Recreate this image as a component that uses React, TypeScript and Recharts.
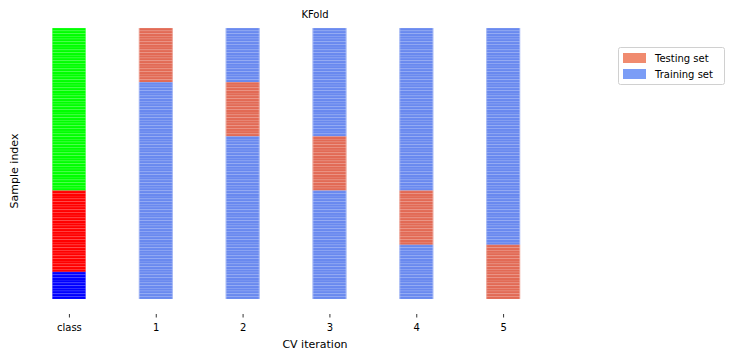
import { BarChart, Bar, XAxis, YAxis, Cell } from "recharts"

// columns along the x axis
const categories = ["class", "1", "2", "3", "4", "5"]

// samples, listed top to bottom
const nSamples = 100
const classCounts = [60, 30, 10]
const classColors = ["#00ff00", "#ff0000", "#0000ff"]

// KFold: each split tests one block of 20 consecutive samples
const foldTestStart = [0, 20, 40, 60, 80]
const foldSize = 20

const TEST_COLOR = "#e26a55"
const TRAIN_COLOR = "#6989ef"
const TEST_PATCH = "#f08b6f"
const TRAIN_PATCH = "#7b9df6"

const FONT = "'DejaVu Sans', sans-serif"

const sampleClass: number[] = []
classCounts.forEach((c, k) => {
  for (let i = 0; i < c; i++) sampleClass.push(k)
})

const rows = categories.map((name) => {
  const row: Record<string, any> = { name }
  for (let i = 0; i < nSamples; i++) row[`s${i}`] = 1
  return row
})

function cellColor(col: number, sample: number) {
  if (col === 0) return classColors[sampleClass[sample]]
  const start = foldTestStart[col - 1]
  return sample >= start && sample < start + foldSize ? TEST_COLOR : TRAIN_COLOR
}

const StripeBar = (props: any) => {
  let { x, y, width, height } = props
  const { fill } = props
  if (x == null || y == null || !width || !height) return null
  if (height < 0) {
    y = y + height
    height = -height
  }
  if (width < 0) {
    x = x + width
    width = -width
  }
  return (
    <g>
      <rect x={x} y={y} width={width} height={height} fill={fill} />
      <rect x={x} y={y} width={width} height={0.7} fill="#ffffff" opacity={0.13} />
      <rect x={x} y={y} width={1} height={height} fill="#ffffff" opacity={0.35} />
      <rect x={x + width - 1} y={y} width={1} height={height} fill="#ffffff" opacity={0.35} />
    </g>
  )
}

export default function App() {
  const samples = Array.from({ length: nSamples }, (_, i) => i)
  return (
    <div style={{ position: "absolute", left: 0, top: 0, width: 733, height: 360, background: "#fff" }}>
      <BarChart
        width={733}
        height={360}
        data={rows}
        margin={{ top: 20, right: 186, left: 26, bottom: 0 }}
        barCategoryGap={0}
      >
        <XAxis
          dataKey="name"
          height={46}
          axisLine={false}
          tickSize={3.5}
          tickMargin={6}
          tickLine={{ stroke: "#000", strokeWidth: 0.8 }}
          tick={{ fill: "#000", fontSize: 10, fontFamily: FONT }}
          interval={0}
        />
        <YAxis hide type="number" reversed domain={[-2.95, 105.55]} allowDataOverflow />
        {samples.map((s) => (
          <Bar
            key={s}
            dataKey={`s${s}`}
            stackId="a"
            barSize={34}
            isAnimationActive={false}
            shape={StripeBar}
          >
            {categories.map((_, c) => (
              <Cell key={c} fill={cellColor(c, s)} />
            ))}
          </Bar>
        ))}
      </BarChart>
      <svg
        width={733}
        height={360}
        style={{ position: "absolute", left: 0, top: 0, pointerEvents: "none" }}
        fontFamily={FONT}
      >
        <text x={315} y={18} textAnchor="middle" fontSize={10} fill="#000">KFold</text>
        <text x={315} y={348} textAnchor="middle" fontSize={11} fill="#000">CV iteration</text>
        <text
          x={0}
          y={0}
          transform="translate(18, 171) rotate(-90)"
          textAnchor="middle"
          fontSize={11}
          fill="#000"
        >
          Sample index
        </text>
        <rect x={618.5} y={47.5} width={106} height={37} rx={2} fill="#fff" stroke="#d0d0d0" />
        <rect x={623} y={53} width={23} height={10} fill={TEST_PATCH} />
        <text x={655} y={62} fontSize={10} fill="#000">Testing set</text>
        <rect x={623} y={69} width={23} height={10} fill={TRAIN_PATCH} />
        <text x={655} y={78} fontSize={10} fill="#000">Training set</text>
      </svg>
    </div>
  )
}
